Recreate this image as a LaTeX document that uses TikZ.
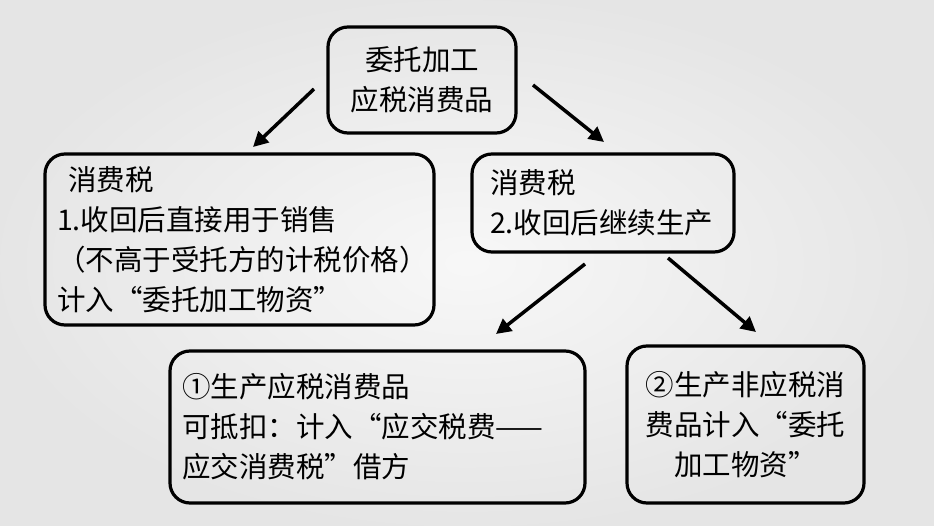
\documentclass[tikz,border=0pt]{standalone}
\usepackage{fontspec}
\newfontfamily\cjk{Noto Sans CJK SC}
\usetikzlibrary{arrows.meta}
\begin{document}
\begin{tikzpicture}[x=1pt,y=-1pt,
	box/.style={draw,line width=3.2pt,rounded corners=20pt,inner ysep=0pt,
		font=\cjk\fontsize{28.5pt}{40pt}\selectfont},
	arr/.style={line width=3.5pt,-{Triangle[length=15pt,width=15pt]}}]
	% background
	\shade[inner color=white!97!black,outer color=white!90!black] (0,0) rectangle (934,526);
	\useasboundingbox (0,0) rectangle (934,526);
	% boxes
	\node[box,minimum width=188pt,minimum height=106pt,align=center] (top) at (422,80) {委托加工\\应税消费品};
	\node[box,minimum width=389pt,minimum height=171pt,inner xsep=12pt,text width=365pt,align=left] (direct) at (239.5,239.5) {\hspace*{11pt}消费税\\1.收回后直接用于销售\\（不高于受托方的计税价格）\\计入“委托加工物资”};
	\node[box,minimum width=262pt,minimum height=98pt,inner xsep=18pt,text width=226pt,align=left] (cont) at (603,203) {消费税\\2.收回后继续生产};
	\node[box,minimum width=415pt,minimum height=152pt,inner xsep=12pt,text width=391pt,align=left] (taxable) at (377.5,427) {①生产应税消费品\\可抵扣：计入“应交税费——\\应交消费税”借方};
	\node[box,minimum width=237pt,minimum height=157pt,text width=213pt,align=center] (nontax) at (745.5,424.5) {②生产非应税消\\费品计入“委托\\加工物资”};
	% arrows
	\coordinate (s1) at (314,89);
	\coordinate (e1) at (253,147);
	\coordinate (s2) at (533,85);
	\coordinate (e2) at (604,142);
	\coordinate (s3) at (585,264);
	\coordinate (e3) at (496,334);
	\coordinate (s4) at (668,258);
	\coordinate (e4) at (756,332);
	\draw[arr] (s1) -- (e1);
	\draw[arr] (s2) -- (e2);
	\draw[arr] (s3) -- (e3);
	\draw[arr] (s4) -- (e4);
\end{tikzpicture}
\end{document}
